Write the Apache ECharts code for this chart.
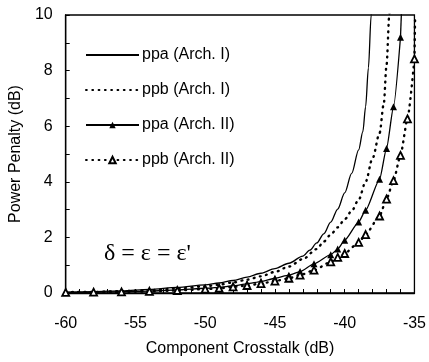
<!DOCTYPE html>
<html>
<head>
<meta charset="utf-8">
<script src="https://cdn.jsdelivr.net/npm/echarts@6/dist/echarts.min.js"></script>
<style>
html,body{margin:0;padding:0;background:#fff;}
#c{width:429px;height:362px;}
</style>
</head>
<body>
<div id="c"></div>
<script>
// ---- data ----
var seriesNames = ['ppa (Arch. I)', 'ppb (Arch. I)', 'ppa (Arch. II)', 'ppb (Arch. II)'];

var xPpaI = [-60,-58,-56,-54,-52,-50,-49,-48,-47,-46,-45,-44,-43,-42.5,-42,-41.5,-41,-40.5,-40,-39.5,-39,-38.7,-38.5,-38.3,-38.1,-37.95];
var yPpaI = [0.03,0.05,0.08,0.13,0.2,0.29,0.36,0.45,0.57,0.71,0.88,1.07,1.33,1.54,1.8,2.13,2.55,3.02,3.6,4.3,5.15,5.8,6.7,8.1,10,11.5];

var xPpbI = [-60,-58,-56,-54,-52,-50,-49,-48,-47,-46,-45,-44,-43,-42,-41.5,-41,-40.5,-40,-39.5,-39,-38.5,-38,-37.5,-37.2,-37,-36.8,-36.7];
var yPpbI = [0.03,0.04,0.07,0.1,0.16,0.24,0.3,0.38,0.48,0.6,0.76,0.95,1.22,1.58,1.85,2.1,2.36,2.65,2.95,3.35,4.0,4.85,5.75,6.8,8.2,10,11.5];

var xArchII = [-60,-58,-56,-54,-52,-50,-49,-48,-47,-46,-45,-44,-43.2,-42.2,-41,-40.5,-40,-39,-38.5,-37.5,-37,-36.5,-36,-35.5,-35];
var yPpaII = [0.02,0.03,0.05,0.07,0.11,0.17,0.2,0.26,0.33,0.41,0.53,0.64,0.77,1.05,1.38,1.58,1.9,2.55,2.98,4.09,5.2,6.7,9.2,null,null];
var ppaIITail = [[-36,9.2],[-35.88,10.8]];
var yPpbII = [0.02,0.03,0.04,0.06,0.09,0.14,0.17,0.22,0.27,0.34,0.43,0.53,0.64,0.82,1.12,1.28,1.42,1.82,2.1,2.77,3.38,4.04,4.95,6.26,8.42];
var ppbIITail = [[-35,8.42],[-34.95,10]];

var xTicks = [-60,-55,-50,-45,-40,-35];
var yTicks = [0,2,4,6,8,10];
var annotation = 'δ = ε = ε\'';

function pairs(xs, ys){ var out=[]; for (var i=0;i<xs.length;i++){ if(ys[i]!==null) out.push([xs[i], ys[i]]); } return out; }

var FONT = 'Liberation Sans, Arial, sans-serif';
var chart = echarts.init(document.getElementById('c'), null, {renderer:'canvas'});
var dotted = [0.8, 5.5];

chart.setOption({
  animation: false,
  backgroundColor: '#fff',
  textStyle: {fontFamily: FONT, color:'#000'},
  grid: {left: 58, top: 15, width: 358, height: 285, show: true, borderColor: '#000', borderWidth: 1.3},
  legend: {
    data: seriesNames,
    orient: 'vertical',
    left: 80, top: 42,
    itemWidth: 53, itemHeight: 8, itemGap: 19,
    textStyle: {fontFamily: FONT, fontSize: 16, color: '#000', padding:[0,0,0,-2]}
  },
  xAxis: {
    type: 'value', min: -60, max: -35, interval: 5,
    name: 'Component Crosstalk (dB)', nameLocation: 'middle', nameGap: 48,
    nameTextStyle: {fontFamily: FONT, fontSize: 16, color:'#000'},
    axisLine: {show: true, lineStyle: {color:'#000', width: 1.3}},
    axisTick: {show: true, inside: true, length: 4, lineStyle:{color:'#000'}},
    minorTick: {show: true, splitNumber: 5, length: 4, lineStyle:{color:'#000'}},
    splitLine: {show: false},
    axisLabel: {fontFamily: FONT, fontSize: 16, color:'#000', margin: 23,
      formatter: function(v){ return xTicks.indexOf(v) >= 0 ? String(v) : ''; }}
  },
  yAxis: {
    type: 'value', min: 0, max: 10, interval: 2,
    name: 'Power Penalty (dB)', nameLocation: 'middle', nameGap: 31,
    nameTextStyle: {fontFamily: FONT, fontSize: 16, color:'#000'},
    axisLine: {show: true, lineStyle: {color:'#000', width: 1.3}},
    axisTick: {show: true, inside: true, length: 4, lineStyle:{color:'#000'}},
    minorTick: {show: true, splitNumber: 2, length: 4, lineStyle:{color:'#000'}},
    splitLine: {show: false},
    axisLabel: {fontFamily: FONT, fontSize: 16, color:'#000', margin: 13,
      formatter: function(v){ return yTicks.indexOf(v) >= 0 ? String(v) : ''; }}
  },
  series: [
    {
      name: seriesNames[0], type: 'line', data: pairs(xPpaI, yPpaI),
      symbol: 'none', smooth: 0.3, smoothMonotone: 'x', clip: true,
      lineStyle: {color:'#000', width: 1.3, type: 'solid'}, itemStyle:{color:'#000', opacity: 0}
    },
    {
      name: seriesNames[1], type: 'line', data: pairs(xPpbI, yPpbI),
      symbol: 'none', smooth: 0.3, smoothMonotone: 'x', clip: true,
      lineStyle: {color:'#000', width: 2.4, type: dotted, cap:'round'}, itemStyle:{color:'#000', opacity: 0}
    },
    {
      name: seriesNames[2], type: 'line', data: pairs(xArchII, yPpaII),
      symbol: 'triangle', symbolSize: 7, clip: true, smooth: 0.2, smoothMonotone: 'x',
      lineStyle: {color:'#000', width: 1.3, type:'solid'}, itemStyle:{color:'#000'}
    },
    {
      name: seriesNames[2] + ' tail', type: 'line', data: ppaIITail,
      symbol: 'none', clip: true,
      lineStyle: {color:'#000', width: 1.3}, itemStyle:{color:'#000'}
    },
    {
      name: seriesNames[3], type: 'line', data: pairs(xArchII, yPpbII),
      symbol: 'triangle', symbolSize: 7, clip: true, smooth: 0.2, smoothMonotone: 'x',
      lineStyle: {color:'#000', width: 2.4, type: dotted, cap:'round'},
      itemStyle:{color:'#fff', borderColor:'#000', borderWidth: 1.8}
    },
    {
      name: seriesNames[3] + ' tail', type: 'line', data: ppbIITail,
      symbol: 'none', clip: false,
      lineStyle: {color:'#000', width: 2.4, type: dotted, cap:'round'}, itemStyle:{color:'#000'}
    }
  ],
  graphic: [{
    type: 'text', left: 104, top: 242,
    style: {text: annotation, fontFamily: 'Liberation Serif, Times New Roman, serif', fontSize: 24, fill:'#000'}
  }]
});
</script>
</body>
</html>
